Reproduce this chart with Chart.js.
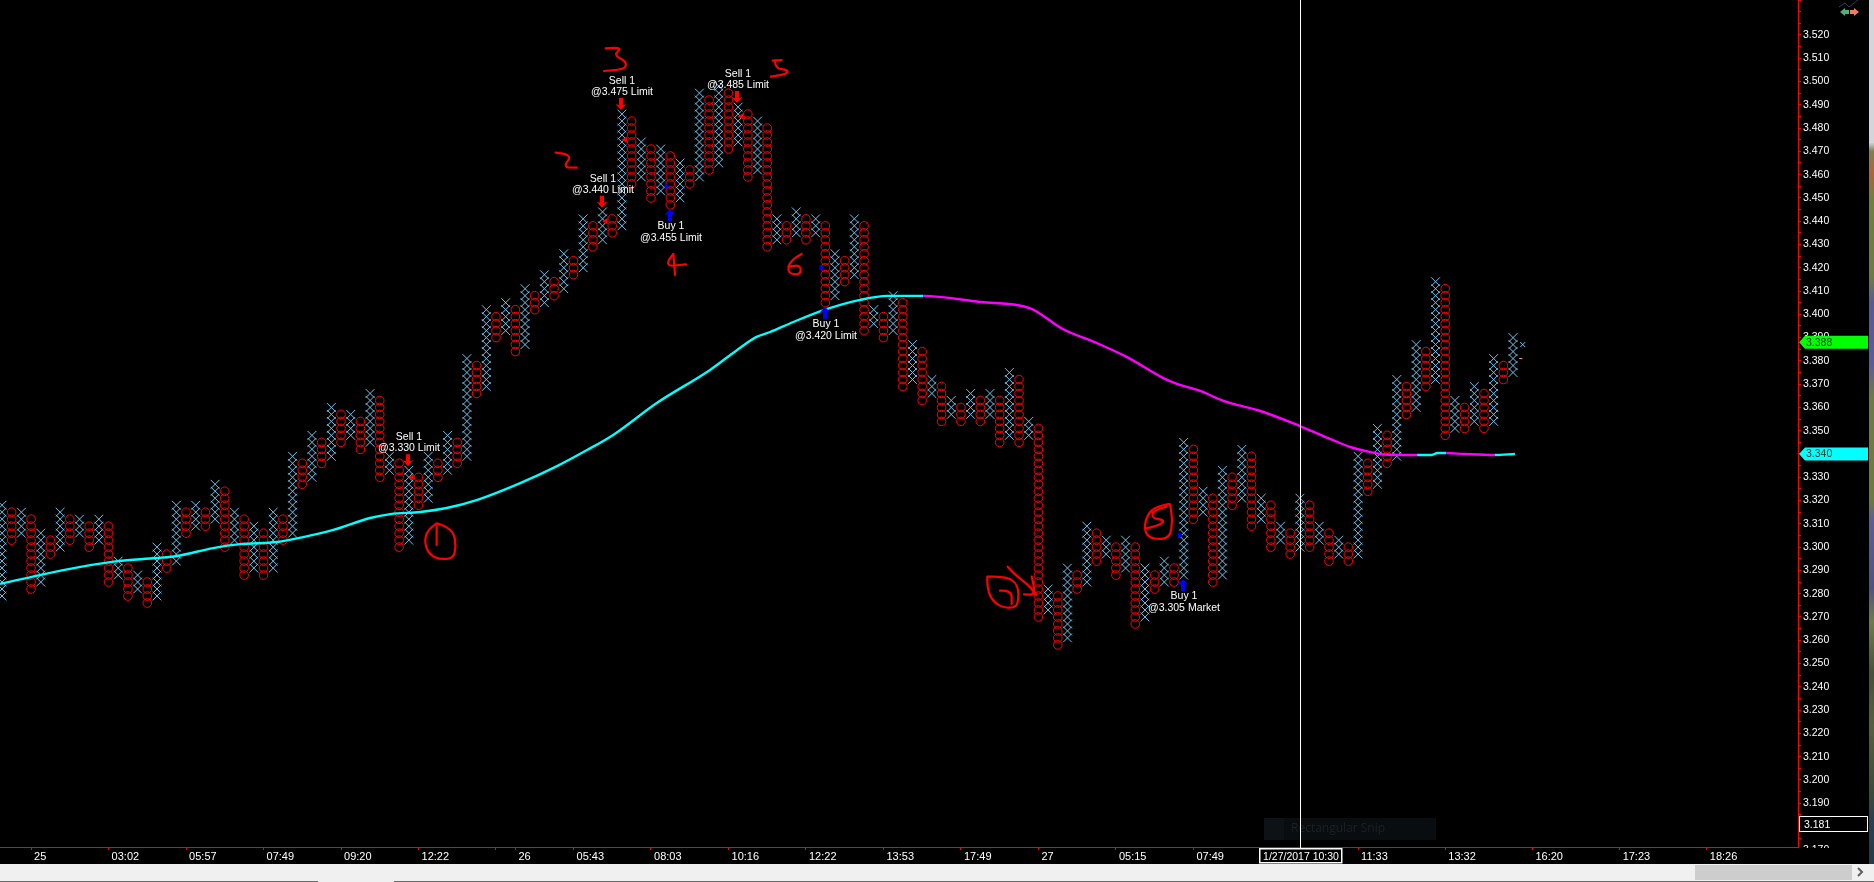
<!DOCTYPE html>
<html>
<head>
<meta charset="utf-8">
<title>Point and figure chart</title>
<style>html,body{margin:0;padding:0;background:#000;overflow:hidden}canvas{display:block}</style>
<script src="https://cdn.jsdelivr.net/npm/chart.js@4"></script>
</head>
<body>
<canvas id="c" width="1874" height="882"></canvas>
<script>
// Point & figure columns: even columns are X (rising), odd columns are O (falling)
const boxSize = 0.003;
const columnHigh = [3.318,3.315,3.315,3.312,3.306,3.303,3.315,3.312,3.312,3.309,3.312,3.309,3.294,3.291,3.288,3.285,3.300,3.297,3.318,3.315,
3.318,3.315,3.327,3.324,3.315,3.312,3.309,3.306,3.315,3.312,3.339,3.336,3.348,3.345,3.360,3.357,3.357,3.354,3.366,3.363,
3.339,3.336,3.333,3.330,3.339,3.336,3.348,3.345,3.381,3.378,3.402,3.399,3.405,3.402,3.411,3.408,3.417,3.414,3.426,3.423,
3.441,3.438,3.444,3.441,3.486,3.483,3.474,3.471,3.471,3.468,3.465,3.462,3.495,3.492,3.498,3.495,3.489,3.486,3.483,3.480,
3.441,3.438,3.444,3.441,3.441,3.438,3.426,3.423,3.441,3.438,3.402,3.399,3.408,3.405,3.387,3.384,3.372,3.369,3.363,3.360,
3.366,3.363,3.366,3.363,3.375,3.372,3.354,3.351,3.282,3.279,3.291,3.288,3.309,3.306,3.303,3.300,3.303,3.300,3.291,3.288,
3.294,3.291,3.345,3.342,3.324,3.321,3.333,3.330,3.342,3.339,3.321,3.318,3.309,3.306,3.321,3.318,3.309,3.306,3.303,3.300,
3.339,3.336,3.351,3.348,3.372,3.369,3.387,3.384,3.414,3.411,3.363,3.360,3.369,3.366,3.381,3.378,3.390];
const columnLow = [3.279,3.303,3.306,3.282,3.285,3.297,3.300,3.303,3.306,3.300,3.303,3.285,3.288,3.279,3.282,3.276,3.279,3.291,3.294,3.306,
3.309,3.309,3.312,3.300,3.303,3.288,3.291,3.288,3.291,3.303,3.306,3.327,3.330,3.336,3.339,3.345,3.348,3.342,3.345,3.330,
3.333,3.300,3.303,3.318,3.321,3.330,3.333,3.336,3.339,3.366,3.369,3.390,3.393,3.384,3.387,3.402,3.405,3.408,3.411,3.417,
3.420,3.429,3.432,3.435,3.438,3.456,3.459,3.450,3.453,3.447,3.450,3.456,3.459,3.462,3.465,3.471,3.474,3.459,3.462,3.429,
3.432,3.432,3.435,3.432,3.435,3.405,3.408,3.414,3.417,3.393,3.396,3.390,3.393,3.369,3.372,3.363,3.366,3.354,3.357,3.354,
3.357,3.354,3.357,3.345,3.348,3.345,3.348,3.270,3.273,3.258,3.261,3.282,3.285,3.294,3.297,3.288,3.291,3.267,3.270,3.282,
3.285,3.285,3.288,3.312,3.315,3.285,3.288,3.318,3.321,3.309,3.312,3.300,3.303,3.297,3.300,3.300,3.303,3.294,3.297,3.294,
3.297,3.324,3.327,3.336,3.339,3.357,3.360,3.369,3.372,3.348,3.351,3.351,3.354,3.351,3.354,3.372,3.375];
const formingColumn = [157];
const formingPrice = [3.387];
const lastQuoteColumn = [156.8];
const lastQuotePrice = [3.381];

// Moving average
const averageCols = [-0.2,3.9,8.1,11.9,16,18.1,21.8,24.6,28.4,31.1,34.2,38,40.1,43.2,45.9,49,53.5,57.3,60.4,63.1,67.6,73.1,75.9,77.9,79.3,81.7,85.2,88.6,91.4,95.1,101,106.1,109.5,113,116.1,119.9,121.3,123.7,126.1,127.1,129.6,134,137.4,139.2,141.2,143.1,146.1,147.6,148.2,149.1,151,154.1,156.2];
const averageValues = [3.2842,3.2880,3.2915,3.2940,3.2953,3.2962,3.2996,3.3013,3.3022,3.3043,3.3074,3.3125,3.3142,3.3151,3.3168,3.3202,3.3275,3.3348,3.3417,3.3482,3.3619,3.3761,3.3847,3.3903,3.3924,3.3967,3.4023,3.4062,3.4079,3.4079,3.4053,3.4027,3.3937,3.3877,3.3817,3.3726,3.3701,3.3671,3.3628,3.3615,3.3589,3.3520,3.3460,3.3430,3.3409,3.3397,3.3396,3.3396,3.3404,3.3404,3.3400,3.3396,3.3400];

// Orders
const tradeCols = [42,62,64,76,69,85,122];
const tradeSides = ['Sell','Sell','Sell','Sell','Buy','Buy','Buy'];
const tradeSizes = [1,1,1,1,1,1,1];
const tradePrices = [3.330,3.440,3.475,3.485,3.455,3.420,3.305];
const tradeTypes = ['Limit','Limit','Limit','Limit','Limit','Limit','Market'];

// Axes
const xTickCols = [3,11,19,27,35,43,51,53,59,67,75,83,91,99,107,115,123,131,140,149,158,167,176];
const xTickLabels = ['25','03:02','05:57','07:49','09:20','12:22','','26','05:43','08:03','10:16','12:22','13:53','17:49','27','05:15','07:49','','11:33','13:32','16:20','17:23','18:26'];
const yTickLabels = ['3.190','3.200','3.210','3.220','3.230','3.240','3.250','3.260','3.270','3.280','3.290','3.300','3.310','3.320','3.330','3.340','3.350','3.360','3.370','3.380','3.390','3.400','3.410','3.420','3.430','3.440','3.450','3.460','3.470','3.480','3.490','3.500','3.510','3.520'];
const lastPrice = ['3.388'];
const averageLast = ['3.340'];
const cursorPrice = ['3.181'];
const cursorTime = ['1/27/2017 10:30'];
const cursorCol = [134];

const FONT = '"Liberation Sans", Arial, sans-serif';
const xMarks = [], oMarks = [];
columnHigh.forEach((hi, i) => {
  const lo = columnLow[i];
  const n = Math.round((hi - lo) / boxSize);
  for (let j = 0; j <= n; j++) (i % 2 === 0 ? xMarks : oMarks).push({x: i, y: lo + j * boxSize});
});
const entries = tradeCols.map((c, i) => ({x: c + (tradeSides[i] === 'Sell' ? 0.33 : -0.4), y: tradePrices[i]}));

const inkStrokes = [
  // circled 1
  [0,300,[[1310,670],[1282,688],[1273,730],[1290,765],[1320,778],[1360,775],[1368,740],[1362,700],[1340,680],[1310,670]]],
  [0,300,[[1310,678],[1310,735]]],
  // 3
  [460,30,[[437,55],[490,50],[460,75],[500,95],[495,118],[432,123]]],
  // 2
  [460,30,[[287,368],[340,372],[308,412],[350,413]]],
  // 5
  [460,30,[[938,92],[965,90]]],
  [460,30,[[945,92],[945,115],[985,120],[980,132],[932,140]]],
  // 4
  [460,30,[[640,672],[607,710],[678,703]]],
  [460,30,[[640,672],[645,735]]],
  // 6
  [460,30,[[1025,672],[990,690],[982,730],[1022,735],[1022,705],[985,710]]],
  // circled 7 with arrow
  [780,280,[[622,890],[680,888],[715,915],[715,970],[700,985],[660,980],[632,955],[622,920],[622,890]]],
  [780,280,[[660,932],[695,930],[695,972]]],
  [780,280,[[683,860],[700,880],[745,915],[770,945]]],
  [780,280,[[755,890],[770,945],[732,943]]],
  // circled 5
  [780,280,[[1165,672],[1120,680],[1095,720],[1095,760],[1120,778],[1170,775],[1178,720],[1170,672]]],
  [780,280,[[1160,680],[1120,690],[1115,715],[1155,720],[1140,735],[1100,745]]]
];

const noPadding = a => { a.paddingLeft = 0; a.paddingRight = 0; a.paddingTop = 0; a.paddingBottom = 0; };

const chrome = {
  id: 'chrome',
  beforeDraw(chart) {
    const c = chart.ctx;
    c.save(); c.fillStyle = '#000'; c.fillRect(0, 0, 1874, 882); c.restore();
  },
  afterDatasetsDraw(chart) {
    const c = chart.ctx, xs = chart.scales.x, ys = chart.scales.y;
    c.save();
    // ghost of the snipping tool
    c.fillStyle = '#0a0d10'; c.fillRect(1264, 818, 172, 22);
    c.fillStyle = '#0e1216'; c.fillRect(1264, 818, 20, 22);
    c.fillStyle = '#1d2125'; c.font = '12px "Open Sans", sans-serif'; c.textBaseline = 'middle'; c.textAlign = 'left';
    c.fillText('Rectangular Snip', 1291, 829);
    // order arrows and labels
    tradeCols.forEach((col, i) => {
      const sell = tradeSides[i] === 'Sell';
      const x = Math.round(xs.getPixelForValue(col) - 0.7);
      const tip = ys.getPixelForValue(sell ? columnHigh[col] : columnLow[col]) + (sell ? -4 : 4);
      const d = sell ? -1 : 1;          // direction from tip to tail
      c.fillStyle = sell ? '#ff0000' : '#0000ff';
      c.beginPath();
      c.moveTo(x, tip);
      c.lineTo(x + 5.5, tip + d * 6);
      c.lineTo(x + 2, tip + d * 5);
      c.lineTo(x + 2, tip + d * 12);
      c.lineTo(x - 2, tip + d * 12);
      c.lineTo(x - 2, tip + d * 5);
      c.lineTo(x - 5.5, tip + d * 6);
      c.closePath(); c.fill();
      c.fillStyle = '#ffffff';
      c.font = '10.5px ' + FONT; c.textAlign = 'center'; c.textBaseline = 'middle';
      const head = tradeSides[i] + ' ' + tradeSizes[i];
      const body = '@' + tradePrices[i].toFixed(3) + ' ' + tradeTypes[i];
      if (sell) {
        c.fillText(head, x + 1, tip - 12 - 17);
        c.fillText(body, x + 1, tip - 12 - 6);
      } else {
        c.fillText(head, x + 1, tip + 12 + 5);
        c.fillText(body, x + 1, tip + 12 + 17);
      }
    });
    // handwritten notes
    c.strokeStyle = '#ff0000'; c.lineWidth = 2.2; c.lineJoin = 'round'; c.lineCap = 'round';
    inkStrokes.forEach(([ox, oy, pts]) => {
      const p = pts.map(q => [ox + q[0] / 3, oy + q[1] / 3]);
      c.beginPath(); c.moveTo(p[0][0], p[0][1]);
      for (let i = 1; i < p.length - 1; i++) {
        c.quadraticCurveTo(p[i][0], p[i][1], (p[i][0] + p[i + 1][0]) / 2, (p[i][1] + p[i + 1][1]) / 2);
      }
      c.lineTo(p[p.length - 1][0], p[p.length - 1][1]);
      c.stroke();
    });
    // crosshair
    const cx = Math.round(xs.getPixelForValue(cursorCol[0])) + 0.5;
    c.strokeStyle = '#ffffff'; c.lineWidth = 1; c.lineCap = 'butt';
    c.beginPath(); c.moveTo(cx, 0); c.lineTo(cx, 848); c.stroke();
    c.restore();
  },
  afterDraw(chart) {
    const c = chart.ctx, ys = chart.scales.y;
    c.save();
    c.font = '10.5px ' + FONT; c.textBaseline = 'middle'; c.textAlign = 'left';
    // clipped 3.170 at the foot of the price axis
    c.save(); c.beginPath(); c.rect(1800, 840, 60, 8); c.clip();
    c.fillStyle = '#fff'; c.fillText('3.170', 1803, ys.bottom + 3); c.restore();
    // price tags
    [[lastPrice[0], '#00ff00'], [averageLast[0], '#00ffff']].forEach(([t, col]) => {
      const y = ys.getPixelForValue(parseFloat(t));
      c.fillStyle = col;
      c.beginPath();
      c.moveTo(1799, y); c.lineTo(1805, y - 6.5); c.lineTo(1868, y - 6.5); c.lineTo(1868, y + 6.5); c.lineTo(1805, y + 6.5);
      c.closePath(); c.fill();
      c.fillStyle = '#00301c';
      c.fillText(t, 1806, y + 0.5);
    });
    // cursor price box
    const py = ys.getPixelForValue(parseFloat(cursorPrice[0]));
    c.fillStyle = '#000'; c.fillRect(1799, py - 8, 69, 16);
    c.strokeStyle = '#fff'; c.lineWidth = 1; c.strokeRect(1799.5, Math.round(py) - 7.5, 68, 15);
    c.fillStyle = '#fff'; c.fillText(cursorPrice[0], 1804, py + 0.5);
    // cursor time box
    c.fillStyle = '#000'; c.fillRect(1259, 848, 84, 16);
    c.strokeStyle = '#fff'; c.lineWidth = 1.5; c.strokeRect(1259.75, 848.75, 82, 14);
    c.fillStyle = '#fff'; c.textAlign = 'center'; c.fillText(cursorTime[0], 1301, 857);
    // icon at the top right
    c.strokeStyle = '#2f3b52'; c.lineWidth = 1; c.beginPath();
    c.moveTo(1839, 7); c.lineTo(1845, 3); c.lineTo(1849, 7); c.lineTo(1858, 0); c.stroke();
    c.fillStyle = '#4db27a'; c.beginPath();
    c.moveTo(1840, 12); c.lineTo(1845, 8); c.lineTo(1845, 10); c.lineTo(1849, 10); c.lineTo(1849, 14); c.lineTo(1845, 14); c.lineTo(1845, 16); c.closePath(); c.fill();
    c.fillStyle = '#ef7d5e'; c.beginPath();
    c.moveTo(1859, 12); c.lineTo(1854, 8); c.lineTo(1854, 10); c.lineTo(1850, 10); c.lineTo(1850, 14); c.lineTo(1854, 14); c.lineTo(1854, 16); c.closePath(); c.fill();
    // wallpaper showing at the window edge
    const g = c.createLinearGradient(0, 0, 0, 864);
    [[0,'#d0d6d9'],[0.165,'#d0d6d9'],[0.175,'#7e7f52'],[0.2,'#a8683a'],[0.23,'#6e7f3d'],[0.32,'#6b7b45'],[0.35,'#585a92'],[0.42,'#5b5c98'],[0.46,'#6d7a46'],[0.58,'#6a7a40'],[0.6,'#5d5f92'],[0.68,'#50527f'],[0.72,'#6d7c4a'],[0.78,'#46503a'],[0.84,'#55603e'],[0.92,'#3a4a3c'],[0.95,'#2a3f50'],[1,'#253a48']].forEach(s => g.addColorStop(s[0], s[1]));
    c.fillStyle = g; c.fillRect(1869, 0, 5, 864);
    // scrollbar strip
    c.fillStyle = '#f0f0f0'; c.fillRect(0, 864, 1874, 18);
    c.fillStyle = '#cdcdcd'; c.fillRect(1695, 865, 157, 15);
    c.strokeStyle = '#606060'; c.lineWidth = 2; c.beginPath();
    c.moveTo(1858, 868); c.lineTo(1862, 872); c.lineTo(1858, 876); c.stroke();
    c.fillStyle = '#696969'; c.fillRect(0, 881, 318, 1); c.fillRect(394, 881, 1480, 1);
    c.restore();
  }
};

new Chart(document.getElementById('c'), {
  type: 'scatter',
  plugins: [chrome],
  data: {
    datasets: [
      { label: 'Entries sell', data: entries.filter((e, i) => tradeSides[i] === 'Sell'), pointStyle: 'triangle', rotation: -90, radius: 3.6, borderWidth: 0, backgroundColor: '#ff0000', showLine: false },
      { label: 'Entries buy', data: entries.filter((e, i) => tradeSides[i] === 'Buy'), pointStyle: 'triangle', rotation: 90, radius: 3.6, borderWidth: 0, backgroundColor: '#0000ff', showLine: false },
      { label: 'Average', data: averageCols.map((x, i) => ({x, y: averageValues[i]})), showLine: true, pointRadius: 0, borderWidth: 2.4, borderColor: '#00ffff', cubicInterpolationMode: 'monotone',
        segment: { borderColor: s => s.p1.parsed.y >= s.p0.parsed.y ? '#00ffff' : '#ff00ff' } },
      { label: 'Last quote', data: lastQuoteColumn.map((x, i) => ({x, y: lastQuotePrice[i]})), pointStyle: 'line', radius: 1.6, borderWidth: 1, borderColor: '#ff8a8a', showLine: false },
      { label: 'Forming X', data: formingColumn.map((x, i) => ({x, y: formingPrice[i]})), pointStyle: 'crossRot', radius: 3.6, borderWidth: 1, borderColor: '#6cc6ee', backgroundColor: 'transparent', showLine: false },
      { label: 'O', data: oMarks, pointStyle: 'circle', radius: 4.3, borderWidth: 1, borderColor: '#ff0000', backgroundColor: 'transparent', showLine: false },
      { label: 'X', data: xMarks, pointStyle: 'crossRot', radius: 6.2, borderWidth: 1, borderColor: '#6cc6ee', backgroundColor: 'transparent', showLine: false }
    ]
  },
  options: {
    responsive: false,
    animation: false,
    events: [],
    layout: { padding: 0, autoPadding: false },
    plugins: { legend: { display: false }, tooltip: { enabled: false } },
    scales: {
      x: {
        type: 'linear', min: -0.2065, max: 185.42, position: 'bottom',
        afterFit: a => { a.height = 35; noPadding(a); },
        afterBuildTicks: a => { a.ticks = xTickCols.map(value => ({value})); },
        border: { color: '#ff0000', width: 1 },
        grid: { drawOnChartArea: false, tickLength: 3, tickColor: '#ff0000' },
        ticks: { autoSkip: false, maxRotation: 0, minRotation: 0, align: 'start', padding: 0, color: '#ffffff',
          font: { family: FONT, size: 11 },
          callback: (v, i) => xTickLabels[i] ? ' ' + xTickLabels[i] : '' }
      },
      y: {
        type: 'linear', min: 3.1712, max: 3.5350, position: 'right',
        afterFit: a => { a.width = 76; noPadding(a); },
        border: { color: '#ff0000', width: 1 },
        grid: { drawOnChartArea: false, tickLength: 3, tickColor: '#ff0000' },
        ticks: { autoSkip: false, stepSize: 0.005, includeBounds: false, padding: 2, color: '#ffffff',
          font: { family: FONT, size: 10.5 },
          callback: v => { const t = v.toFixed(3); return yTickLabels.includes(t) ? t : ''; } }
      }
    }
  }
});
</script>
</body>
</html>
